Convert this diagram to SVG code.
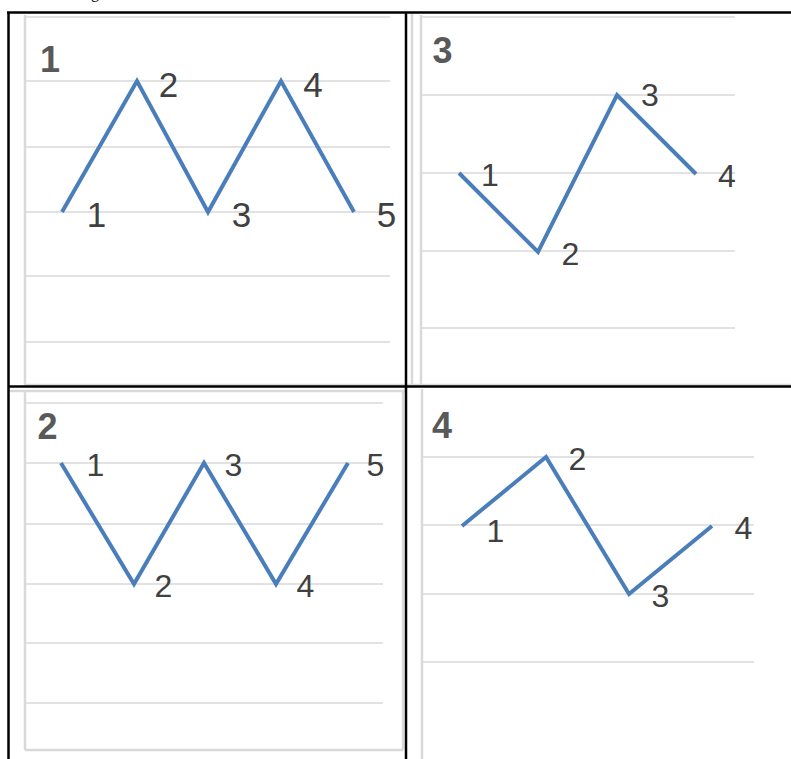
<svg xmlns="http://www.w3.org/2000/svg" width="791" height="759" viewBox="0 0 791 759">
<style>
.grid{stroke:#d9d9d9;stroke-width:1.5;fill:none}
.frame{stroke:#d9d9d9;stroke-width:2.5;fill:none}
.series{stroke:#4a7ebb;stroke-width:4;fill:none;stroke-linejoin:miter;stroke-linecap:butt}
.lbl{font-family:"Liberation Sans",Arial,sans-serif;font-size:32px;fill:#404040;text-anchor:middle}
.big{font-size:35px}
.ttl{font-family:"Liberation Sans",Arial,sans-serif;font-size:36px;font-weight:bold;fill:#595959;text-anchor:middle}
.border{stroke:#000;stroke-width:2.5;fill:none}
</style>
<rect width="791" height="759" fill="#fff"/>
<text x="91" y="-2.5" font-family="Liberation Serif,serif" font-size="16" fill="#000">g</text>

<g id="chart1">
  <line class="frame" x1="25" y1="15" x2="25" y2="385"/>
  <line class="frame" x1="25" y1="385" x2="405" y2="385"/>
  <line class="grid" x1="25" y1="17" x2="390" y2="17"/>
  <line class="grid" x1="25" y1="81" x2="390" y2="81"/>
  <line class="grid" x1="25" y1="147" x2="390" y2="147"/>
  <line class="grid" x1="25" y1="212" x2="390" y2="212"/>
  <line class="grid" x1="25" y1="276" x2="390" y2="276"/>
  <line class="grid" x1="25" y1="342" x2="390" y2="342"/>
  <polyline class="series" points="62,212 137,81 208,212 281,81 354,212"/>
  <text class="ttl" x="50" y="72">1</text>
  <text class="lbl big" x="96.5" y="227">1</text>
  <text class="lbl big" x="168.5" y="97">2</text>
  <text class="lbl big" x="241.5" y="227">3</text>
  <text class="lbl big" x="313" y="97">4</text>
  <text class="lbl big" x="386.5" y="227">5</text>
</g>

<g id="chart3">
  <line class="frame" x1="412" y1="12" x2="412" y2="385"/>
  <line class="frame" x1="421" y1="15" x2="421" y2="385"/>
  <line class="frame" x1="406" y1="385" x2="791" y2="385"/>
  <line class="grid" x1="421" y1="17" x2="735" y2="17"/>
  <line class="grid" x1="421" y1="95" x2="735" y2="95"/>
  <line class="grid" x1="421" y1="173" x2="735" y2="173"/>
  <line class="grid" x1="421" y1="251" x2="735" y2="251"/>
  <line class="grid" x1="421" y1="328" x2="735" y2="328"/>
  <polyline class="series" points="459,173 538,252 617,95 696,174"/>
  <text class="ttl" x="442.5" y="63">3</text>
  <text class="lbl" x="490" y="186">1</text>
  <text class="lbl" x="570.5" y="265">2</text>
  <text class="lbl" x="650" y="106">3</text>
  <text class="lbl" x="727" y="187">4</text>
</g>

<g id="chart2">
  <line class="frame" x1="8" y1="391" x2="405" y2="391"/>
  <line class="frame" x1="25" y1="391" x2="25" y2="750"/>
  <line class="frame" x1="25" y1="750" x2="403" y2="750"/>
  <line class="frame" x1="403" y1="391" x2="403" y2="750"/>
  <line class="grid" x1="25" y1="403" x2="383" y2="403"/>
  <line class="grid" x1="25" y1="463" x2="383" y2="463"/>
  <line class="grid" x1="25" y1="524" x2="383" y2="524"/>
  <line class="grid" x1="25" y1="584" x2="383" y2="584"/>
  <line class="grid" x1="25" y1="643" x2="383" y2="643"/>
  <line class="grid" x1="25" y1="703" x2="383" y2="703"/>
  <polyline class="series" points="61,463 134,584 204,463 276,584 348,463"/>
  <text class="ttl" x="47.5" y="439">2</text>
  <text class="lbl" x="95.5" y="476">1</text>
  <text class="lbl" x="163.5" y="597">2</text>
  <text class="lbl" x="233.5" y="476">3</text>
  <text class="lbl" x="305.5" y="597">4</text>
  <text class="lbl" x="375.5" y="476">5</text>
</g>

<g id="chart4">
  <line class="frame" x1="422" y1="389" x2="422" y2="759"/>
  <line class="grid" x1="422" y1="457" x2="754" y2="457"/>
  <line class="grid" x1="422" y1="525" x2="754" y2="525"/>
  <line class="grid" x1="422" y1="594" x2="754" y2="594"/>
  <line class="grid" x1="422" y1="662" x2="754" y2="662"/>
  <polyline class="series" points="462,526 546,457 629,594 712,526"/>
  <text class="ttl" x="442" y="438">4</text>
  <text class="lbl" x="495.5" y="542">1</text>
  <text class="lbl" x="577.5" y="470">2</text>
  <text class="lbl" x="660.5" y="607">3</text>
  <text class="lbl" x="743.5" y="539">4</text>
</g>

<g id="table">
  <line class="border" x1="7" y1="12.5" x2="791" y2="12.5"/>
  <line class="border" x1="8.5" y1="12" x2="8.5" y2="759"/>
  <line class="border" x1="406" y1="12" x2="406" y2="759"/>
  <line class="border" x1="8" y1="386.5" x2="791" y2="386.5"/>
</g>
</svg>
